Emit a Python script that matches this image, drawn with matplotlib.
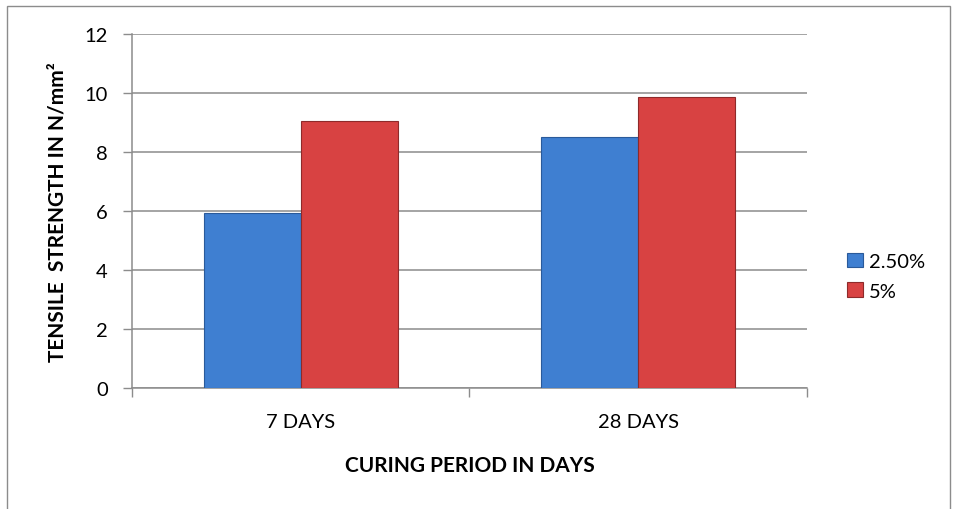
import matplotlib
matplotlib.use("Agg")
import matplotlib.pyplot as plt
import numpy as np
from matplotlib.patches import Rectangle

categories = ["7 DAYS", "28 DAYS"]
series_names = ["2.50%", "5%"]
vals_25 = [5.93, 8.50]
vals_5 = [9.05, 9.86]
yticks = [0, 2, 4, 6, 8, 10, 12]

plt.rcParams['font.family'] = ['Lato', 'DejaVu Sans']

fig = plt.figure(figsize=(9.54, 5.10), dpi=100)
ax = fig.add_axes([132/954, 1-389/510, (807-132)/954, (389-35)/510])

x = np.arange(len(categories))
bw = 0.2875
colors = ["#3F7FD1", "#D84242"]
edges = ["#2A5A9A", "#8E2A2A"]
for i, (vals, name) in enumerate(zip([vals_25, vals_5], series_names)):
    ax.bar(x + (i - 0.5) * bw, vals, width=bw, color=colors[i], edgecolor=edges[i],
           linewidth=0.8, label=name, zorder=3)

ax.set_xlim(-0.5, 1.5)
ax.set_ylim(0, 12)
ax.set_yticks(yticks)
ax.set_yticklabels([str(t) for t in yticks], fontsize=14.5)
ax.yaxis.grid(True, color="#8C8C8C", linewidth=1.1, zorder=0)
ax.set_axisbelow(True)

ax.set_xticks([-0.5, 0.5, 1.5])
ax.set_xticklabels([])
ax.set_xticks(x, minor=True)
ax.set_xticklabels(categories, minor=True, fontsize=14.5)
ax.tick_params(axis='x', which='minor', length=0, pad=18)
ax.tick_params(axis='x', which='major', length=6.5, color="#8C8C8C", width=1)
ax.tick_params(axis='y', length=6.5, color="#8C8C8C", width=1, pad=11)

for s in ["top", "right"]:
    ax.spines[s].set_visible(False)
for s in ["left", "bottom"]:
    ax.spines[s].set_color("#8C8C8C")
    ax.spines[s].set_linewidth(1.1)

ax.set_xlabel("CURING PERIOD IN DAYS", fontsize=15, fontweight="bold", labelpad=18)
ax.set_ylabel("TENSILE  STRENGTH IN N/mm²", fontsize=15, fontweight="bold", labelpad=12)

leg = ax.legend(loc="center left", bbox_to_anchor=(1.033, 0.316), frameon=False,
                fontsize=14.5, handlelength=0.75, handleheight=0.75, handletextpad=0.3,
                labelspacing=0.6)

fig.patches.append(Rectangle((7/954, -0.05), (950-7)/954, 1-7/510+0.05,
                             transform=fig.transFigure, fill=False,
                             edgecolor="#8C8C8C", linewidth=1.0))

fig.savefig("out.png", dpi=100)
